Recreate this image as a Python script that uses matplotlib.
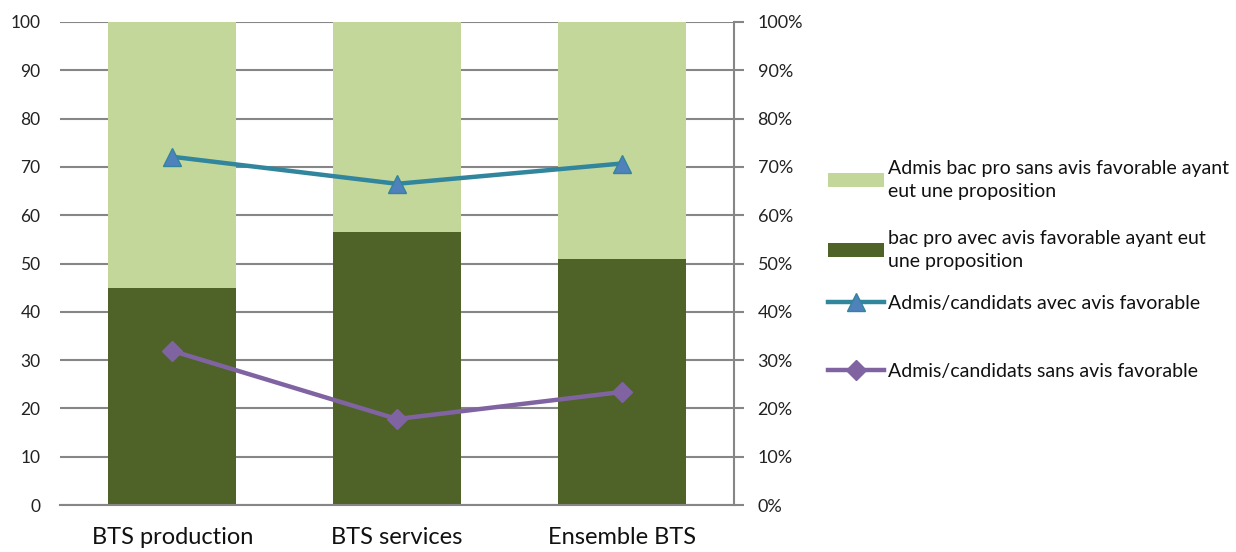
import numpy as np
import matplotlib.pyplot as plt
from matplotlib.ticker import PercentFormatter

plt.rcParams['font.family'] = ['Lato', 'DejaVu Sans']

categories = ["BTS production", "BTS services", "Ensemble BTS"]
avec_avis = [45, 56.5, 51]          # bac pro avec avis favorable ayant eut une proposition
sans_avis = [55, 43.5, 49]          # Admis bac pro sans avis favorable ayant eut une proposition
taux_avec = [0.721, 0.665, 0.707]   # Admis/candidats avec avis favorable
taux_sans = [0.319, 0.178, 0.234]   # Admis/candidats sans avis favorable

grey = "#868686"
x = np.arange(len(categories))

fig = plt.figure(figsize=(12.36, 5.52), dpi=100)
ax = fig.add_axes([60 / 1236, 47 / 552, 674 / 1236, 483 / 552])

ax.bar(x, avec_avis, width=0.57, color="#4F6228", zorder=2,
       label="bac pro avec avis favorable ayant eut\nune proposition")
ax.bar(x, sans_avis, width=0.57, bottom=avec_avis, color="#C4D79B", zorder=2,
       label="Admis bac pro sans avis favorable ayant\neut une proposition")
ax.set_xlim(-0.5, 2.5)
ax.set_ylim(0, 100)
ax.set_yticks(range(0, 101, 10))
ax.yaxis.grid(True, color=grey, lw=1.5, zorder=0)
ax.set_axisbelow(True)
for s in ["left", "top", "right"]:
    ax.spines[s].set_visible(False)
ax.spines["bottom"].set_color(grey)
ax.spines["bottom"].set_linewidth(1.5)
ax.tick_params(axis="y", length=0, pad=14, labelsize=12.5, labelcolor="#222222")
ax.tick_params(axis="x", length=0, pad=16, labelsize=17, labelcolor="#111111")
ax.set_xticks(x)
ax.set_xticklabels(categories)

ax2 = ax.twinx()
ax2.plot(x, taux_avec, color="#31859C", lw=3.2, marker="^", markersize=13,
         markerfacecolor="#4F81BD", markeredgecolor="#31859C", markeredgewidth=1,
         label="Admis/candidats avec avis favorable", zorder=3)
ax2.plot(x, taux_sans, color="#8064A2", lw=3.2, marker="D", markersize=10,
         markerfacecolor="#8064A2", markeredgecolor="#8064A2",
         label="Admis/candidats sans avis favorable", zorder=3)
ax2.set_ylim(0, 1)
ax2.set_yticks(np.arange(0, 1.01, 0.1))
ax2.yaxis.set_major_formatter(PercentFormatter(1.0, decimals=0))
for s in ["left", "top", "bottom"]:
    ax2.spines[s].set_visible(False)
ax2.spines["right"].set_color(grey)
ax2.spines["right"].set_linewidth(1.5)
ax2.tick_params(axis="y", length=7, width=1.5, color=grey, pad=10,
                labelsize=13, labelcolor="#222222")

h1, l1 = ax.get_legend_handles_labels()
h2, l2 = ax2.get_legend_handles_labels()
handles = [h1[1], h1[0]] + h2
labels = [l1[1], l1[0]] + l2
centers = [180, 250, 303, 371]
for h, l, yc in zip(handles, labels, centers):
    leg = fig.legend([h], [l], loc="center left", bbox_to_anchor=(818 / 1236, 1 - yc / 552),
                     frameon=False, fontsize=14, handlelength=2.9, handletextpad=0.2,
                     borderpad=0, labelcolor="#111111")
    for t in leg.get_texts():
        t.set_linespacing(1.45)

fig.savefig("out.png", dpi=100)
